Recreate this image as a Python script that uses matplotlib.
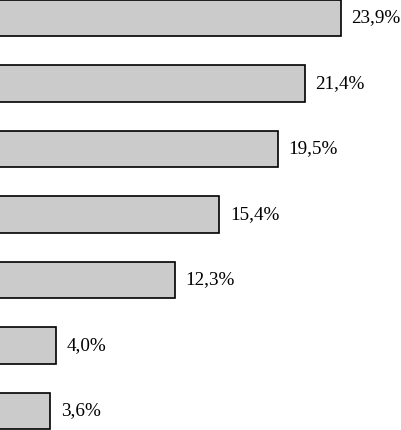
import matplotlib
matplotlib.use("Agg")
from matplotlib import pyplot as plt

values = [23.9, 21.4, 19.5, 15.4, 12.3, 4.0, 3.6]
labels = ["23,9%", "21,4%", "19,5%", "15,4%", "12,3%", "4,0%", "3,6%"]

fig = plt.figure(figsize=(4.01, 4.30), dpi=100)
ax = fig.add_axes([0, 0, 1, 1])

pos = list(range(len(values)))
ax.barh(pos, values, height=0.55, color="#cbcbcb", edgecolor="black", linewidth=1.2)

for p, v, lab in zip(pos, values, labels):
    ax.text(v + 0.75, p, lab, va="center", ha="left",
            fontsize=13.8, family="Liberation Serif")

ax.set_xlim(0.07, 28.13)
ax.set_ylim(6.29, -0.275)
ax.axis("off")

fig.savefig("out.png", dpi=100)
